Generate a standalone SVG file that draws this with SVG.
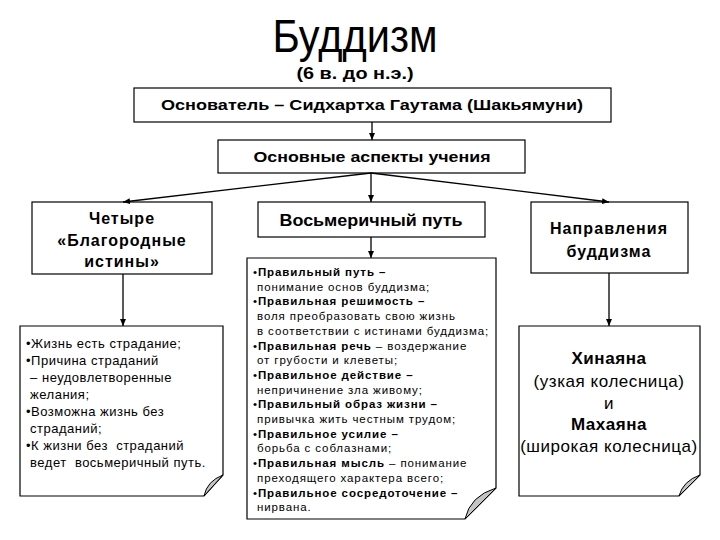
<svg xmlns="http://www.w3.org/2000/svg" width="720" height="540" viewBox="0 0 720 540">
<style>
.box{fill:#fff;stroke:#000;stroke-width:1.2}
.note{fill:#fff;stroke:#000;stroke-width:1.2}
.fold{fill:#c4c4c4;stroke:#000;stroke-width:1}
.t{font-family:"Liberation Sans",Arial,sans-serif;fill:#000}
.b{font-weight:bold}
.c{text-anchor:middle}
.con{stroke:#000;stroke-width:1.3;fill:none}
</style>
<defs>
<marker id="ah" markerWidth="8" markerHeight="8" refX="7" refY="4" orient="auto" markerUnits="userSpaceOnUse">
<path d="M0,1 L7,4 L0,7 Z" fill="#000"/>
</marker>
</defs>
<rect width="720" height="540" fill="#fff"/>
<g id="title">
<text class="t c" x="355" y="52" font-size="46" textLength="165" lengthAdjust="spacingAndGlyphs">Буддизм</text>
<text class="t b c" x="355" y="79" font-size="17" textLength="117" lengthAdjust="spacingAndGlyphs">(6 в. до н.э.)</text>
</g>
<g id="founder">
<rect class="box" x="134" y="88" width="477" height="34"/>
<text class="t b c" x="372" y="110" font-size="15.5" textLength="422" lengthAdjust="spacingAndGlyphs">Основатель – Сидхартха Гаутама (Шакьямуни)</text>
</g>
<g id="aspects">
<rect class="box" x="218" y="140" width="307" height="33"/>
<text class="t b c" x="372" y="162" font-size="15.5" textLength="237" lengthAdjust="spacingAndGlyphs">Основные аспекты учения</text>
</g>
<g id="truths">
<rect class="box" x="32" y="202" width="180" height="72"/>
<g class="t b c" font-size="16" letter-spacing="1">
<text x="122" y="224">Четыре</text>
<text x="122" y="246">«Благородные</text>
<text x="122" y="267">истины»</text>
</g>
</g>
<g id="path8">
<rect class="box" x="258" y="202" width="227" height="35"/>
<text class="t b c" x="371" y="226" font-size="17" textLength="183" lengthAdjust="spacingAndGlyphs">Восьмеричный путь</text>
</g>
<g id="directions">
<rect class="box" x="531" y="202" width="157" height="71"/>
<g class="t b c" font-size="16" letter-spacing="1.1">
<text x="609" y="234">Направления</text>
<text x="609" y="257">буддизма</text>
</g>
</g>
<g id="truths-note">
<path class="note" d="M20,326 H223 V475 L204,496 H20 Z"/>
<path class="fold" d="M223,475 L204,496 Q207,481 223,475 Z"/>
<g class="t" font-size="13" letter-spacing="0.5">
<text x="26" y="348">•Жизнь есть страдание;</text>
<text x="26" y="365">•Причина страданий</text>
<text x="26" y="382" xml:space="preserve"> – неудовлетворенные</text>
<text x="26" y="399" xml:space="preserve"> желания;</text>
<text x="26" y="416">•Возможна жизнь без</text>
<text x="26" y="433" xml:space="preserve"> страданий;</text>
<text x="26" y="450" xml:space="preserve">•К жизни без  страданий</text>
<text x="26" y="467" xml:space="preserve"> ведет  восьмеричный путь.</text>
</g>
</g>
<g id="path8-note">
<path class="note" d="M247,258 H496 V488 L465,519 H247 Z"/>
<path class="fold" d="M496,488 L465,519 Q470,496 496,488 Z"/>
<g class="t" font-size="11.5" letter-spacing="0.9">
<text x="253" y="276">•<tspan class="b">Правильный путь –</tspan></text>
<text x="257" y="290.7">понимание основ буддизма;</text>
<text x="253" y="305.4">•<tspan class="b">Правильная решимость –</tspan></text>
<text x="257" y="320.1">воля преобразовать свою жизнь</text>
<text x="257" y="334.8">в соответствии с истинами буддизма;</text>
<text x="253" y="349.5">•<tspan class="b">Правильная речь</tspan> – воздержание</text>
<text x="257" y="364.2">от грубости и клеветы;</text>
<text x="253" y="378.9">•<tspan class="b">Правильное действие –</tspan></text>
<text x="257" y="393.6">непричинение зла живому;</text>
<text x="253" y="408.3">•<tspan class="b">Правильный образ жизни –</tspan></text>
<text x="257" y="423">привычка жить честным трудом;</text>
<text x="253" y="437.7">•<tspan class="b">Правильное усилие –</tspan></text>
<text x="257" y="452.4">борьба с соблазнами;</text>
<text x="253" y="467.1">•<tspan class="b">Правильная мысль</tspan> – понимание</text>
<text x="257" y="481.8">преходящего характера всего;</text>
<text x="253" y="496.5">•<tspan class="b">Правильное сосредоточение –</tspan></text>
<text x="257" y="511.2">нирвана.</text>
</g>
</g>
<g id="directions-note">
<path class="note" d="M519,326 H700 V475 L679,496 H519 Z"/>
<path class="fold" d="M700,475 L679,496 Q683,481 700,475 Z"/>
<g class="t c" font-size="17" letter-spacing="0.55">
<text class="b" x="609" y="364">Хинаяна</text>
<text x="609" y="387">(узкая колесница)</text>
<text x="609" y="409">и</text>
<text class="b" x="609" y="430">Махаяна</text>
<text x="609" y="452">(широкая колесница)</text>
</g>
</g>
<g id="connectors">
<line class="con" x1="372" y1="122" x2="372" y2="140" marker-end="url(#ah)"/>
<line class="con" x1="371" y1="173" x2="123" y2="202" marker-end="url(#ah)"/>
<line class="con" x1="371" y1="173" x2="609" y2="202" marker-end="url(#ah)"/>
<line class="con" x1="371" y1="173" x2="371" y2="202" marker-end="url(#ah)"/>
<line class="con" x1="123" y1="274" x2="123" y2="326" stroke-width="2" marker-end="url(#ah)"/>
<line class="con" x1="371" y1="237" x2="371" y2="258" marker-end="url(#ah)"/>
<line class="con" x1="609" y1="273" x2="609" y2="326" marker-end="url(#ah)"/>
</g>
</svg>
